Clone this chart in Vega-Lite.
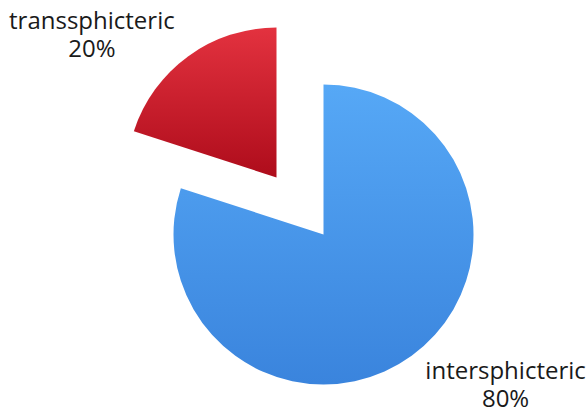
{
  "$schema": "https://vega.github.io/schema/vega-lite/v6.json",
  "width": 527,
  "height": 345,
  "padding": {"left": 60, "top": 62, "right": 0, "bottom": 0},
  "autosize": "none",
  "background": "white",
  "view": {"stroke": null},
  "data": {
    "values": [
      {"category": "intersphicteric", "value": 80, "label": "intersphicteric\n80%"},
      {"category": "transsphicteric", "value": 20, "label": "transsphicteric\n20%"}
    ]
  },
  "transform": [
    {"stack": "value", "groupby": [], "sort": [{"field": "category"}], "as": ["start", "end"]}
  ],
  "resolve": {"scale": {"theta": "shared"}},
  "layer": [
    {
      "transform": [{"filter": "datum.category === 'intersphicteric'"}],
      "mark": {
        "type": "arc",
        "outerRadius": 150,
        "fill": {"gradient": "linear", "x1": 0, "y1": 0, "x2": 0, "y2": 1,
          "stops": [{"offset": 0, "color": "#56a8f6"}, {"offset": 1, "color": "#3a84dd"}]}
      },
      "encoding": {
        "theta": {"field": "start", "type": "quantitative", "scale": {"domain": [0, 100]}},
        "theta2": {"field": "end"}
      }
    },
    {
      "transform": [{"filter": "datum.category === 'transsphicteric'"}],
      "mark": {
        "type": "arc",
        "outerRadius": 150,
        "xOffset": -47,
        "yOffset": -57,
        "fill": {"gradient": "linear", "x1": 0, "y1": 0, "x2": 0, "y2": 1,
          "stops": [{"offset": 0, "color": "#e3323f"}, {"offset": 1, "color": "#ae0c1b"}]}
      },
      "encoding": {
        "theta": {"field": "start", "type": "quantitative", "scale": {"domain": [0, 100]}},
        "theta2": {"field": "end"}
      }
    },
    {
      "transform": [{"filter": "datum.category === 'intersphicteric'"}],
      "mark": {"type": "text", "radius": 228, "align": "center", "baseline": "middle",
        "lineBreak": "\n", "lineHeight": 28, "font": "Open Sans", "fontSize": 24, "color": "#1a1a1a"},
      "encoding": {
        "theta": {"datum": 35.28, "type": "quantitative", "scale": {"domain": [0, 100]}},
        "text": {"field": "label"}
      }
    },
    {
      "transform": [{"filter": "datum.category === 'transsphicteric'"}],
      "mark": {"type": "text", "radius": 314.6, "align": "center", "baseline": "middle",
        "lineBreak": "\n", "lineHeight": 28, "font": "Open Sans", "fontSize": 24, "color": "#1a1a1a"},
      "encoding": {
        "theta": {"datum": 86.83, "type": "quantitative", "scale": {"domain": [0, 100]}},
        "text": {"field": "label"}
      }
    }
  ]
}
